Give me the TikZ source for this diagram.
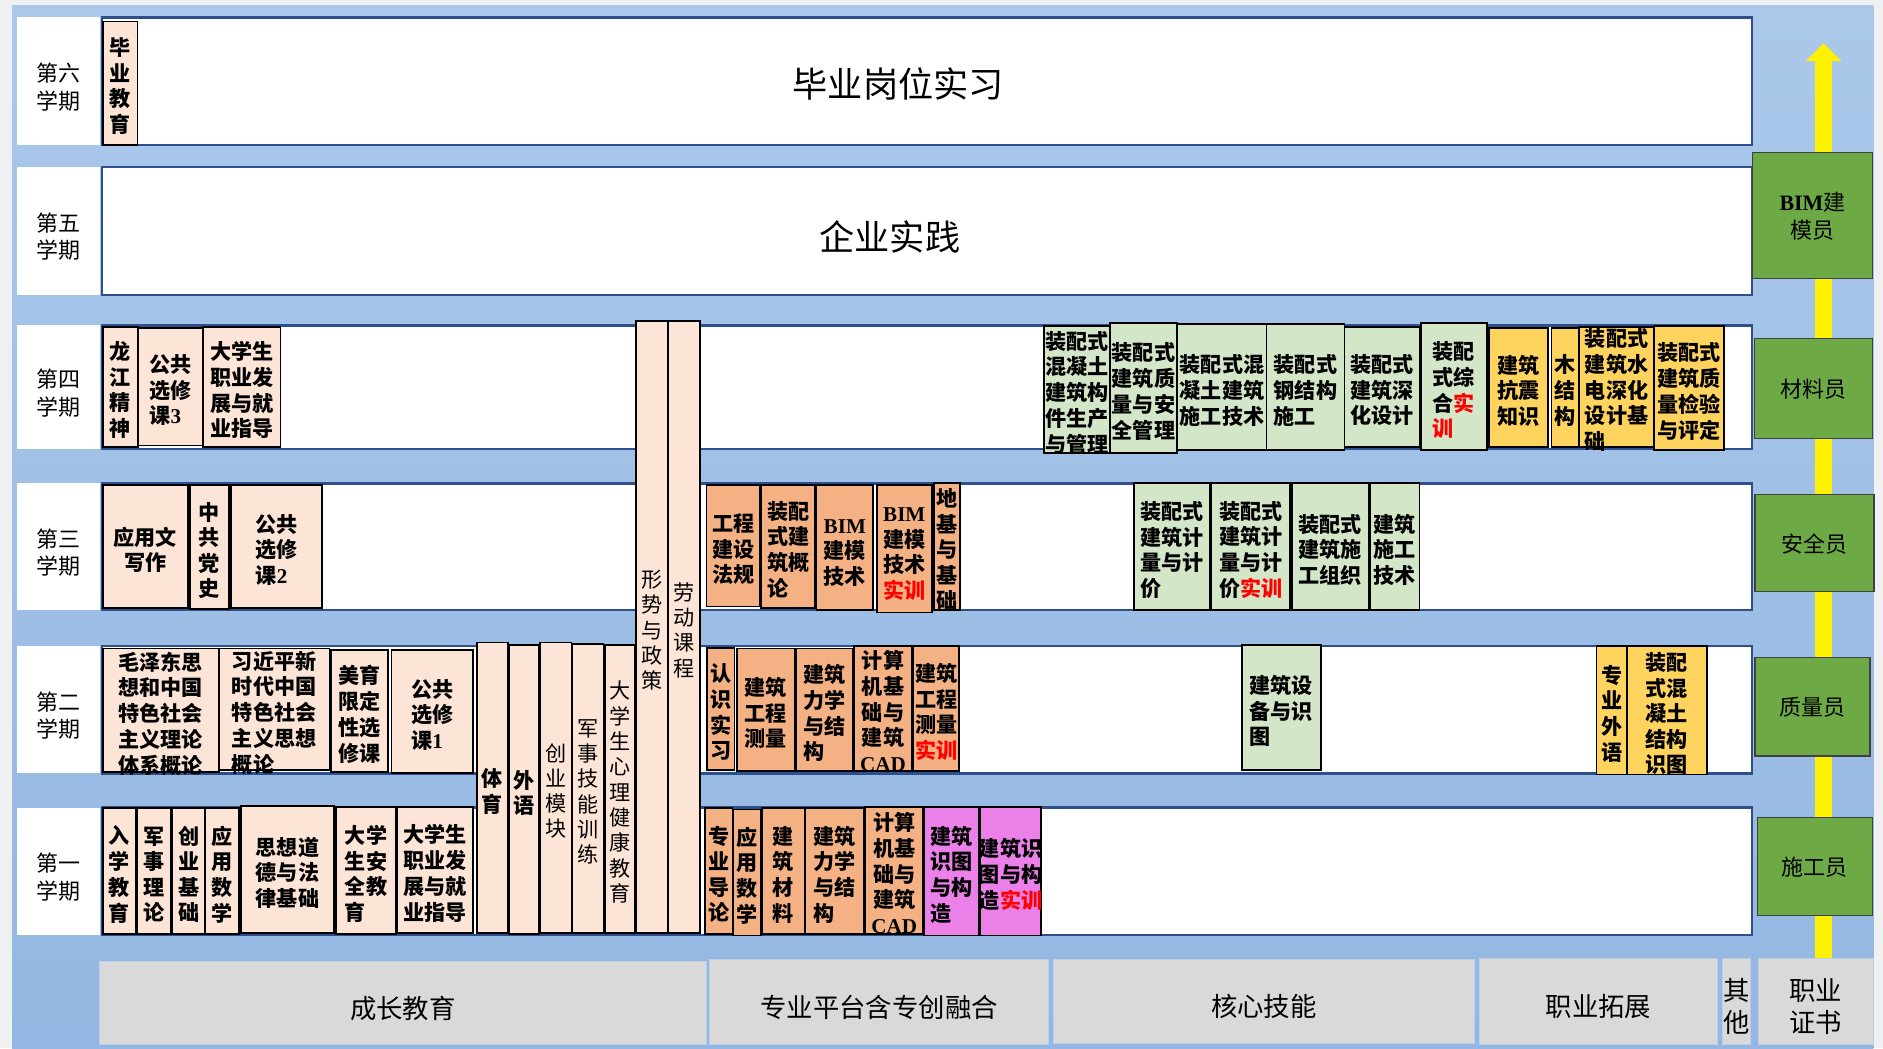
\documentclass[tikz,border=0pt]{standalone}
\usepackage{fontspec}
\setmainfont{Noto Sans CJK SC}
\newfontfamily\lat{Liberation Serif}
\usepackage{tikz}
\usetikzlibrary{arrows.meta, fit}
\definecolor{framegray}{HTML}{EEF0F1}
\definecolor{bgtop}{HTML}{ABC8EA}
\definecolor{bgbot}{HTML}{93B7E2}
\definecolor{bandblue}{HTML}{2E4F8C}
\definecolor{peach}{HTML}{FCE4D6}
\definecolor{platorange}{HTML}{F4B183}
\definecolor{drawpink}{HTML}{EA80E8}
\definecolor{coregreen}{HTML}{D3E6C8}
\definecolor{extgold}{HTML}{FFD45E}
\definecolor{rolegreen}{HTML}{6DAA45}
\definecolor{catgray}{HTML}{D9D9D9}
\definecolor{catedge}{HTML}{BCCFE6}
\newcommand{\shixun}{\textcolor{red}{实训}}
\newcommand{\cstack}[1]{\begin{tabular}{@{}c@{}}#1\end{tabular}}
\newcommand{\lstack}[1]{\begin{tabular}{@{}l@{}}#1\end{tabular}}
\tikzset{%
	semrow/.style={draw=bandblue, line width=1.3pt, fill=white, inner sep=0pt},
	semlab/.style={fill=white, inner sep=0pt},
	course/.style={draw=black, line width=1pt, inner sep=0pt},
	base/.style={course, fill=peach},
	plat/.style={course, fill=platorange},
	pinkbox/.style={course, fill=drawpink},
	core/.style={course, fill=coregreen},
	ext/.style={course, fill=extgold},
	role/.style={draw=black!75, line width=0.8pt, fill=rolegreen, inner sep=0pt},
	cat/.style={draw=catedge, line width=0.6pt, fill=catgray, inner sep=0pt},
	ctxt/.style={label={[inner sep=0pt, yshift=-3.5pt, font=\bfseries\fontsize{12}{14.4}\selectfont]center:\cstack{#1}}},
	ctxtl/.style={label={[inner sep=0pt, yshift=-3.5pt, font=\bfseries\fontsize{12}{14.4}\selectfont]center:\lstack{#1}}},
	ltxt/.style={label={[inner sep=0pt, yshift=-3.5pt, font=\fontsize{12}{14.4}\selectfont]center:\cstack{#1}}},
	stxt/.style={label={[inner sep=0pt, yshift=-5pt, font=\fontsize{12.5}{15.5}\selectfont]center:\cstack{#1}}},
	rtxt/.style={label={[inner sep=0pt, yshift=-2pt, font=\fontsize{12.5}{15.5}\selectfont]center:\cstack{#1}}},
	ktxt/.style={label={[inner sep=0pt, yshift=-5pt, font=\fontsize{15}{18}\selectfont]center:\cstack{#1}}},
	bigtext/.style={font=\fontsize{20}{24}\selectfont},
	careerline/.style={draw=yellow, line width=0.343cm, -{Triangle[length=0.36cm, width=0.70cm]}}
}

\begin{document}
\begin{tikzpicture}[x=0.024cm, y=-0.024cm]
	\useasboundingbox (0,0) rectangle (1568,873);
	\fill[framegray] (0,0) rectangle (1568,873);
	\shade[top color=bgtop, bottom color=bgbot] (10,5) rectangle (1560,873);

	\foreach \n/\t/\b/\w in {6/14.5/121/六, 5/139/245.5/五, 4/271/374/四, 3/402.5/508/三, 2/538/644/二, 1/672.5/778.5/一} {
		\node[semrow, fit={(85,\t) (1458.6,\b)}] (sem\n) {};
		\node[semlab, fit={(14,\t) (83.5,\b)}, stxt={第\w\\学期}] (lab\n) {};
	}
	\node[bigtext] (intern) at (748,70) {毕业岗位实习};
	\node[bigtext] (practice) at (741,197) {企业实践};

	\node[cat, fit={(83,801) (588,870)}, ktxt={成长教育}] (growth) {};
	\node[cat, fit={(591,799) (873,870)}, ktxt={专业平台含专创融合}] (platform) {};
	\node[cat, fit={(877,799) (1228,869)}, ktxt={核心技能}] (coreskill) {};
	\node[cat, fit={(1232,798) (1430,870)}, ktxt={职业拓展}] (extend) {};
	\node[cat, fit={(1434,798) (1458,870)}, ktxt={其\\他}] (other) {};
	\node[cat, fit={(1464,798) (1560,870)}, ktxt={职业\\证书}] (cert) {};

	\coordinate (arrowtop) at (1518.5,36);
	\draw[careerline] (cert.north -| arrowtop) to (arrowtop);

	\node[role, fit={(1459.5,127) (1559,231.8)}, rtxt={{\lat\bfseries BIM}建\\模员}] (bim) {};
	\node[role, fit={(1461,282) (1559,365)}, rtxt={材料员}] (material) {};
	\node[role, fit={(1461.4,412) (1560.5,492.6)}, rtxt={安全员}] (safety) {};
	\node[role, fit={(1461.4,547.3) (1557.2,629.5)}, rtxt={质量员}] (quality) {};
	\node[role, fit={(1463.6,680.7) (1559,762.1)}, rtxt={施工员}] (builder) {};

	\node[base, fit={(85.5,18) (114.5,120.5)}, ctxt={毕\\业\\教\\育}] (g61) {};

	\node[base, fit={(85.5,272) (115.2,372)}, ctxt={龙\\江\\精\\神}] (g41) {};
	\node[base, fit={(115.2,273) (169.1,371)}, ctxtl={公共\\选修\\课{\lat 3}}] (g42) {};
	\node[base, fit={(169.1,272) (233.5,372)}, ctxt={大学生\\职业发\\展与就\\业指导}] (g43) {};
	\node[base, fit={(529.8,267) (556.5,777)}, ltxt={形\\势\\与\\政\\策}] (g01) {};
	\node[base, fit={(556.5,267) (583,777)}, ltxt={劳\\动\\课\\程}] (g02) {};

	\node[core, fit={(869.3,271.5) (924.6,377)}, ctxt={装配式\\混凝土\\建筑构\\件生产\\与管理}] (k41) {};
	\node[core, fit={(924.6,268.7) (979.8,377.3)}, ctxt={装配式\\建筑质\\量与安\\全管理}] (k42) {};
	\node[core, fit={(980.6,270) (1054.6,375)}, ctxt={装配式混\\凝土建筑\\施工技术}] (k43) {};
	\node[core, fit={(1054.6,270) (1119.5,375)}, ctxtl={装配式\\钢结构\\施工}] (k44) {};
	\node[core, fit={(1119.5,272) (1182.3,372)}, ctxt={装配式\\建筑深\\化设计}] (k45) {};
	\node[core, fit={(1183,269) (1238,375)}, ctxtl={装配\\式综\\合\textcolor{red}{实}\\\textcolor{red}{训}}] (k46) {};
	\node[ext, fit={(1240,273) (1289,372)}, ctxt={建筑\\抗震\\知识}] (e41) {};
	\node[ext, fit={(1292,273) (1315,372)}, ctxt={木\\结\\构}] (e42) {};
	\node[ext, fit={(1315,272) (1377.3,372)}, ctxtl={装配式\\建筑水\\电深化\\设计基\\础}] (e43) {};
	\node[ext, fit={(1377.3,271.5) (1435.8,374.5)}, ctxt={装配式\\建筑质\\量检验\\与评定}] (e44) {};

	\node[base, fit={(85.5,404) (156.5,506)}, ctxt={应用文\\写作}] (g31) {};
	\node[base, fit={(158,404) (190.7,507)}, ctxt={中\\共\\党\\史}] (g32) {};
	\node[base, fit={(192.6,404) (268.4,506)}, ctxtl={公共\\选修\\课{\lat 2}}] (g33) {};
	\node[plat, fit={(588.3,404) (633,505)}, ctxt={工程\\建设\\法规}] (p31) {};
	\node[plat, fit={(634,404) (678.7,506)}, ctxtl={装配\\式建\\筑概\\论}] (p32) {};
	\node[plat, fit={(680,404) (727,508)}, ctxt={{\lat BIM}\\建模\\技术}] (p33) {};
	\node[plat, fit={(730,404) (776,510)}, ctxt={{\lat BIM}\\建模\\技术\\\shixun}] (p34) {};
	\node[plat, fit={(778,402) (799.5,508)}, ctxt={地\\基\\与\\基\\础}] (p35) {};
	\node[core, fit={(944,402) (1007.6,508)}, ctxtl={装配式\\建筑计\\量与计\\价}] (k31) {};
	\node[core, fit={(1008.8,402) (1074.5,508)}, ctxtl={装配式\\建筑计\\量与计\\价\shixun}] (k32) {};
	\node[core, fit={(1075.7,402) (1139.6,508)}, ctxt={装配式\\建筑施\\工组织}] (k33) {};
	\node[core, fit={(1140.5,402) (1182,508)}, ctxt={建筑\\施工\\技术}] (k34) {};

	\node[base, fit={(85.5,540) (182.2,642.6)}, ctxt={毛泽东思\\想和中国\\特色社会\\主义理论\\体系概论}] (g21) {};
	\node[base, fit={(182.2,540) (274.4,641)}, ctxtl={习近平新\\时代中国\\特色社会\\主义思想\\概论}] (g22) {};
	\node[base, fit={(275.9,541) (323.4,643)}, ctxt={美育\\限定\\性选\\修课}] (g23) {};
	\node[base, fit={(326,541) (394,644)}, ctxtl={公共\\选修\\课{\lat 1}}] (g24) {};
	\node[base, fit={(397,535) (422.7,777)}, ctxt={体\\育}] (g25) {};
	\node[base, fit={(423.8,537) (448.7,778)}, ctxt={外\\语}] (g26) {};
	\node[base, fit={(449.8,535) (475.8,777)}, ltxt={创\\业\\模\\块}] (g27) {};
	\node[base, fit={(476.6,536) (502.6,777)}, ltxt={军\\事\\技\\能\\训\\练}] (g28) {};
	\node[base, fit={(503.7,537) (528.6,777)}, ltxt={大\\学\\生\\心\\理\\健\\康\\教\\育}] (g29) {};
	\node[plat, fit={(588.7,539.8) (611.7,641)}, ctxt={认\\识\\实\\习}] (p21) {};
	\node[plat, fit={(613.6,540) (662,642)}, ctxt={建筑\\工程\\测量}] (p22) {};
	\node[plat, fit={(662.7,540) (710.3,642)}, ctxtl={建筑\\力学\\与结\\构}] (p23) {};
	\node[plat, fit={(711.4,538) (759.3,642)}, ctxt={计算\\机基\\础与\\建筑\\{\lat CAD}}] (p24) {};
	\node[plat, fit={(760.4,538) (798.8,642)}, ctxt={建筑\\工程\\测量\\\shixun}] (p25) {};
	\node[core, fit={(1034,537) (1099.8,641)}, ctxtl={建筑设\\备与识\\图}] (k21) {};
	\node[ext, fit={(1329.5,538) (1354.5,645)}, ctxt={专\\业\\外\\语}] (e21) {};
	\node[ext, fit={(1354.5,538) (1421.2,645)}, ctxt={装配\\式混\\凝土\\结构\\识图}] (e22) {};

	\node[base, fit={(85.5,673) (113.4,778)}, ctxt={入\\学\\教\\育}] (g11) {};
	\node[base, fit={(114.1,673) (142.4,778)}, ctxt={军\\事\\理\\论}] (g12) {};
	\node[base, fit={(143.1,673) (171,778)}, ctxt={创\\业\\基\\础}] (g13) {};
	\node[base, fit={(171,673) (198.9,778)}, ctxt={应\\用\\数\\学}] (g14) {};
	\node[base, fit={(200.7,671) (278.1,777)}, ctxt={思想道\\德与法\\律基础}] (g15) {};
	\node[base, fit={(279.6,672) (330,778)}, ctxtl={大学\\生安\\全教\\育}] (g16) {};
	\node[base, fit={(330.9,672) (394,777)}, ctxt={大学生\\职业发\\展与就\\业指导}] (g17) {};
	\node[plat, fit={(586.8,673) (609.9,778)}, ctxt={专\\业\\导\\论}] (p11) {};
	\node[plat, fit={(610.6,674) (634,779)}, ctxt={应\\用\\数\\学}] (p12) {};
	\node[plat, fit={(634.8,673) (670,778)}, ctxt={建\\筑\\材\\料}] (p13) {};
	\node[plat, fit={(670.4,673) (719.4,778)}, ctxtl={建筑\\力学\\与结\\构}] (p14) {};
	\node[plat, fit={(720.6,672) (768.6,778)}, ctxt={计算\\机基\\础与\\建筑\\{\lat CAD}}] (p15) {};
	\node[pinkbox, fit={(769.5,672) (815.5,779)}, ctxtl={建筑\\识图\\与构\\造}] (p16) {};
	\node[pinkbox, fit={(816,672) (867,779)}, ctxt={建筑识\\图与构\\造\shixun}] (p17) {};
\end{tikzpicture}
\end{document}
